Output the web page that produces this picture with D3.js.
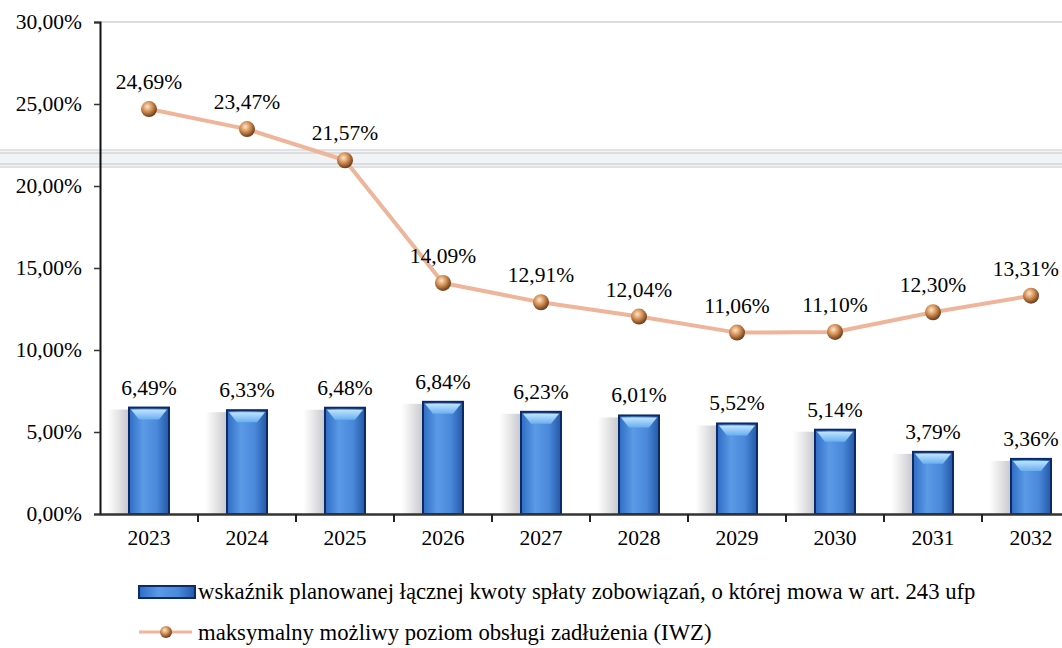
<!DOCTYPE html>
<html><head><meta charset="utf-8">
<script src="https://cdn.jsdelivr.net/npm/d3@7"></script>
<style>html,body{margin:0;padding:0;background:#fff;overflow:hidden}svg{display:block}</style>
</head><body>
<script>
const years = ["2023","2024","2025","2026","2027","2028","2029","2030","2031","2032"];
const barValues = [6.49, 6.33, 6.48, 6.84, 6.23, 6.01, 5.52, 5.14, 3.79, 3.36];
const lineValues = [24.69, 23.47, 21.57, 14.09, 12.91, 12.04, 11.06, 11.10, 12.30, 13.31];
const yTicks = [0, 5, 10, 15, 20, 25, 30];
const barLegend = "wskaźnik planowanej łącznej kwoty spłaty zobowiązań, o której mowa w art. 243 ufp";
const lineLegend = "maksymalny możliwy poziom obsługi zadłużenia (IWZ)";

const W = 1062, H = 648;
const FONT = "'Liberation Serif','Times New Roman',serif";
const svg = d3.select("body").append("svg").attr("width", W).attr("height", H);
const defs = svg.append("defs");

const bg = defs.append("linearGradient").attr("id","barGrad").attr("x1","0").attr("x2","1").attr("y1","0").attr("y2","0");
bg.append("stop").attr("offset","0%").attr("stop-color","#2f6cc4");
bg.append("stop").attr("offset","35%").attr("stop-color","#5a9ae6");
bg.append("stop").attr("offset","70%").attr("stop-color","#4a88da");
bg.append("stop").attr("offset","100%").attr("stop-color","#2458a8");
const sg = defs.append("linearGradient").attr("id","shadowGrad").attr("x1","0").attr("x2","1");
sg.append("stop").attr("offset","0%").attr("stop-color","#c8c8cc").attr("stop-opacity",0);
sg.append("stop").attr("offset","100%").attr("stop-color","#b8b8c0").attr("stop-opacity",0.9);
const tg = defs.append("linearGradient").attr("id","topGrad").attr("x1","0").attr("x2","0").attr("y1","0").attr("y2","1");
tg.append("stop").attr("offset","0%").attr("stop-color","#bfe4ff");
tg.append("stop").attr("offset","100%").attr("stop-color","#6aaef0");
const mg = defs.append("radialGradient").attr("id","ballGrad").attr("cx","40%").attr("cy","35%").attr("r","65%");
mg.append("stop").attr("offset","0%").attr("stop-color","#fde6cc");
mg.append("stop").attr("offset","45%").attr("stop-color","#d8955a");
mg.append("stop").attr("offset","100%").attr("stop-color","#6e3a18");

const x = d3.scaleBand().domain(years).range([100, 1080]).paddingInner(0).paddingOuter(0);
const y = d3.scaleLinear().domain([0, 30]).range([514, 22]);
const fmt = v => d3.format(".2f")(v).replace(".", ",") + "%";
const barW = 40;
const FS = 21.5;

// plot frame top line + scan artifact lines
svg.append("line").attr("x1",100).attr("x2",W).attr("y1",y(30)).attr("y2",y(30)).attr("stroke","#d0d0d4").attr("stroke-width",1.5);
svg.append("rect").attr("x",0).attr("y",151).attr("width",W).attr("height",15).attr("fill","#f2f3f5");
[150,153,164,167].forEach(v=>svg.append("line").attr("x1",0).attr("x2",W).attr("y1",v).attr("y2",v).attr("stroke","#c4c6cc").attr("stroke-width",1));

// bar shadows
svg.append("g").selectAll("rect").data(years).join("rect")
  .attr("x", d => x(d) + x.bandwidth()/2 - barW/2 - 22)
  .attr("y", (d,i) => y(barValues[i]) + 2)
  .attr("width", 24)
  .attr("height", (d,i) => y(0) - y(barValues[i]) - 2)
  .attr("fill", "url(#shadowGrad)");

// bars
const bars = svg.append("g");
bars.selectAll("rect.bar").data(years).join("rect").attr("class","bar")
  .attr("x", d => x(d) + x.bandwidth()/2 - barW/2)
  .attr("y", (d,i) => y(barValues[i]))
  .attr("width", barW)
  .attr("height", (d,i) => y(0) - y(barValues[i]))
  .attr("fill", "url(#barGrad)")
  .attr("stroke", "#0c2a66").attr("stroke-width", 2);
bars.selectAll("path.top").data(years).join("path").attr("class","top")
  .attr("d", (d,i) => {
    const x0 = x(d) + x.bandwidth()/2 - barW/2 + 2, x1 = x0 + barW - 4, t = y(barValues[i]) + 2;
    return `M${x0},${t} L${x1},${t} L${x1-8},${t+10} L${x0+8},${t+10} Z`;
  })
  .attr("fill", "url(#topGrad)");

// y axis
const yAxis = svg.append("g").attr("transform","translate(100,0)")
  .call(d3.axisLeft(y).tickValues(yTicks).tickFormat(fmt).tickSize(6).tickPadding(12));
yAxis.select(".domain").attr("stroke","#111").attr("stroke-width",2);
yAxis.selectAll(".tick line").attr("stroke","#333").attr("stroke-width",1.5);
yAxis.selectAll("text").attr("font-family",FONT).attr("font-size",FS).attr("fill","#000");

// x axis
const xAxis = svg.append("g").attr("transform",`translate(0,${y(0)})`)
  .call(d3.axisBottom(x).tickSize(0).tickPadding(16));
xAxis.select(".domain").attr("stroke","#333").attr("stroke-width",2.5);
xAxis.selectAll("text").attr("font-family",FONT).attr("font-size",FS).attr("fill","#000");
svg.append("g").selectAll("line").data(years.slice(1)).join("line")
  .attr("x1", d => x(d)).attr("x2", d => x(d)).attr("y1", y(0)).attr("y2", y(0) + 8)
  .attr("stroke","#222").attr("stroke-width",2);

// line
const line = d3.line().x((d,i) => x(years[i]) + x.bandwidth()/2).y(d => y(d));
svg.append("path").datum(lineValues).attr("d", line).attr("fill","none")
  .attr("stroke","#eeb59a").attr("stroke-width",4).attr("stroke-linejoin","round");
svg.append("g").selectAll("circle").data(lineValues).join("circle")
  .attr("cx", (d,i) => x(years[i]) + x.bandwidth()/2).attr("cy", d => y(d)).attr("r", 8)
  .attr("fill","url(#ballGrad)");

// labels
svg.append("g").selectAll("text").data(barValues).join("text")
  .attr("x", (d,i) => x(years[i]) + x.bandwidth()/2).attr("y", d => y(d) - 13)
  .attr("text-anchor","middle").attr("font-family",FONT).attr("font-size",FS).attr("fill","#000")
  .text(fmt);
svg.append("g").selectAll("text").data(lineValues).join("text")
  .attr("x", (d,i) => x(years[i]) + x.bandwidth()/2).attr("y", d => y(d) - 20)
  .attr("text-anchor","middle").attr("font-family",FONT).attr("font-size",FS).attr("fill","#000")
  .text(fmt)
  .each(function(){
    const w = this.getComputedTextLength();
    const cx = +this.getAttribute("x");
    if (cx + w/2 > W - 3) this.setAttribute("x", W - 3 - w/2);
  });

// legend
const lg = svg.append("g");
lg.append("rect").attr("x",139).attr("y",586).attr("width",56).attr("height",12)
  .attr("fill","url(#barGrad)").attr("stroke","#0c2a66").attr("stroke-width",2);
lg.append("text").attr("x",198).attr("y",599).attr("font-family",FONT).attr("font-size",22.7).attr("fill","#000").text(barLegend);
lg.append("line").attr("x1",139).attr("x2",192).attr("y1",632).attr("y2",632).attr("stroke","#eeb59a").attr("stroke-width",3);
lg.append("circle").attr("cx",166).attr("cy",632).attr("r",6).attr("fill","url(#ballGrad)");
lg.append("text").attr("x",198).attr("y",640).attr("font-family",FONT).attr("font-size",22.7).attr("fill","#000").text(lineLegend);
</script>
</body></html>
